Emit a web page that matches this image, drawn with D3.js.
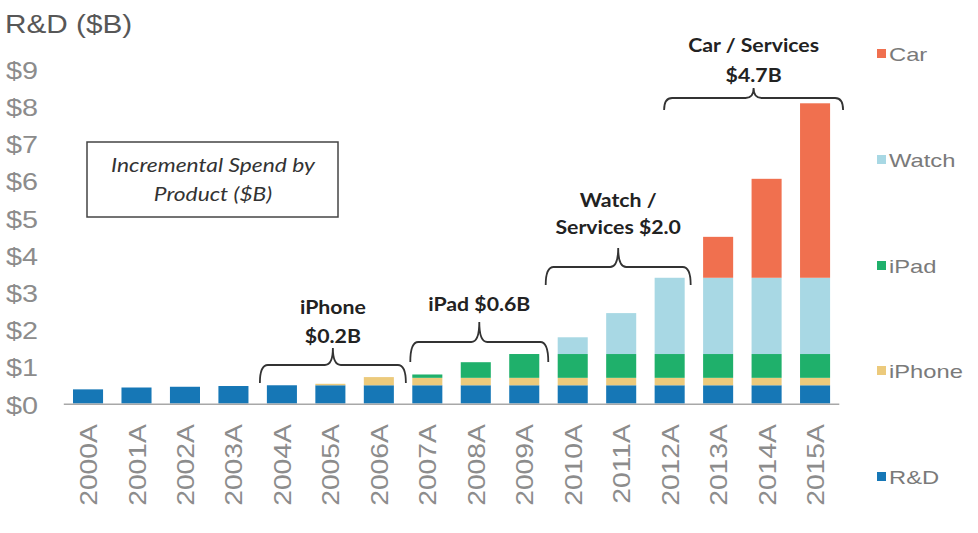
<!DOCTYPE html>
<html><head><meta charset="utf-8">
<script src="https://cdn.jsdelivr.net/npm/d3@7"></script>
<style>body{margin:0;background:#fff}svg{display:block}</style>
</head><body>
<script>
const years = ["2000A","2001A","2002A","2003A","2004A","2005A","2006A","2007A","2008A","2009A","2010A","2011A","2012A","2013A","2014A","2015A"];
const rd     = [0.38,0.43,0.45,0.47,0.49,0.49,0.49,0.49,0.49,0.49,0.49,0.49,0.49,0.49,0.49,0.49];
const iphone = [0,0,0,0,0,0.04,0.22,0.20,0.20,0.20,0.20,0.20,0.20,0.20,0.20,0.20];
const ipad   = [0,0,0,0,0,0,0,0.09,0.42,0.64,0.64,0.64,0.64,0.64,0.64,0.64];
const watch  = [0,0,0,0,0,0,0,0,0,0,0.45,1.10,2.05,2.05,2.05,2.05];
const car    = [0,0,0,0,0,0,0,0,0,0,0,0,0,1.10,2.66,4.69];
const seriesNames = ["R&D","iPhone","iPad","Watch","Car"];
const yTicks = [0,1,2,3,4,5,6,7,8,9];
const tickLabels = ["$0","$1","$2","$3","$4","$5","$6","$7","$8","$9"];
const annotations = [
  {lines:["iPhone","$0.2B"], from:"2004A", to:"2006A"},
  {lines:["iPad $0.6B"], from:"2007A", to:"2009A"},
  {lines:["Watch /","Services $2.0"], from:"2010A", to:"2012A"},
  {lines:["Car / Services","$4.7B"], from:"2013A", to:"2015A"}
];
const colors = {"R&D":"#1677b6","iPhone":"#ecca7c","iPad":"#1fb06b","Watch":"#a8d8e4","Car":"#f0704f"};

const W=978,H=533;
const svg=d3.select("body").append("svg").attr("width",W).attr("height",H);

const x=d3.scaleBand().domain(years).range([63.8,839.3]).paddingInner(0.38).paddingOuter(0.19);
const y=d3.scaleLinear().domain([0,9]).range([403.5,68.7]);

const table=years.map((yr,i)=>({year:yr,"R&D":rd[i],"iPhone":iphone[i],"iPad":ipad[i],"Watch":watch[i],"Car":car[i]}));
const stack=d3.stack().keys(seriesNames)(table);

// bars
svg.append("g").selectAll("g").data(stack).join("g").attr("fill",d=>colors[d.key])
  .selectAll("rect").data(d=>d).join("rect")
  .attr("x",d=>x(d.data.year)).attr("width",x.bandwidth())
  .attr("y",d=>y(d[1])).attr("height",d=>Math.max(0,y(d[0])-y(d[1])));

// baseline
svg.append("line").attr("x1",x.range()[0]).attr("x2",x.range()[1]).attr("y1",y(0)+0.8).attr("y2",y(0)+0.8)
  .attr("stroke","#a8a8a8").attr("stroke-width",1.6);

// y tick labels
svg.append("g").selectAll("text").data(yTicks).join("text")
  .attr("transform",d=>`translate(38,${y(d)+10}) scale(1.2,1)`)
  .attr("text-anchor","end").attr("font-family","Liberation Sans, Arial, sans-serif")
  .attr("font-size",24).attr("fill","#8c8c8c").text((d,i)=>tickLabels[i]);

// title
svg.append("text").attr("transform","translate(5,33) scale(1.19,1)")
  .attr("font-family","Liberation Sans, Arial, sans-serif").attr("font-size",25).attr("fill","#575757").text("R&D ($B)");

// x labels
svg.append("g").selectAll("text").data(years).join("text")
  .attr("transform",d=>`translate(${x(d)+x.bandwidth()/2+9},424) rotate(-90) scale(1.18,1)`)
  .attr("text-anchor","end").attr("font-family","Liberation Sans, Arial, sans-serif")
  .attr("font-size",24).attr("fill","#8c8c8c").text(d=>d);

// legend
const legendY=[477,371,266,160,54];
const lg=svg.append("g").selectAll("g").data(seriesNames).join("g")
  .attr("transform",(d,i)=>`translate(877,${legendY[i]})`);
lg.append("rect").attr("x",0).attr("y",-5).attr("width",9).attr("height",9).attr("fill",d=>colors[d]);
lg.append("text").attr("transform","translate(12,7) scale(1.25,1)")
  .attr("font-family","Liberation Sans, Arial, sans-serif").attr("font-size",19).attr("fill","#7a7a7a").text(d=>d);

// incremental box
svg.append("rect").attr("x",87).attr("y",142).attr("width",251).attr("height",75)
  .attr("fill","none").attr("stroke","#444").attr("stroke-width",1.5);
[["Incremental Spend by",172],["Product ($B)",201]].forEach(([t,ty])=>{
  svg.append("text").attr("transform",`translate(213,${ty}) scale(1.2,1)`).attr("text-anchor","middle")
    .attr("font-family","Lato, sans-serif").attr("font-style","italic").attr("font-size",19)
    .attr("fill","#333").text(t);
});

// braces
const braceGeom=[
  {dl:-7,dr:12,yEnd:383,yBar:365,yTip:348,textY:[314,343]},
  {dl:-2,dr:9,yEnd:362,yBar:342,yTip:322,textY:[311]},
  {dl:-12,dr:6,yEnd:285,yBar:267,yTip:248,textY:[207,234]},
  {dl:-39,dr:13,yEnd:110,yBar:98,yTip:88,textY:[52,82]}
];
function brace(x1,x2,yEnd,yBar,yTip){
  const r=8, m=(x1+x2)/2;
  return `M${x1},${yEnd} Q${x1},${yBar} ${x1+r},${yBar} L${m-r},${yBar} Q${m},${yBar} ${m},${yTip} Q${m},${yBar} ${m+r},${yBar} L${x2-r},${yBar} Q${x2},${yBar} ${x2},${yEnd}`;
}
annotations.forEach((a,i)=>{
  const g=braceGeom[i];
  const x1=x(a.from)+g.dl, x2=x(a.to)+x.bandwidth()+g.dr, m=(x1+x2)/2;
  svg.append("path").attr("d",brace(x1,x2,g.yEnd,g.yBar,g.yTip)).attr("fill","none")
    .attr("stroke","#333").attr("stroke-width",1.8);
  a.lines.forEach((t,j)=>{
    svg.append("text").attr("transform",`translate(${m},${g.textY[j]}) scale(1.15,1)`).attr("text-anchor","middle")
      .attr("font-family","Lato, sans-serif").attr("font-weight","bold").attr("font-size",18.5)
      .attr("fill","#222").text(t);
  });
});
</script>
</body></html>
